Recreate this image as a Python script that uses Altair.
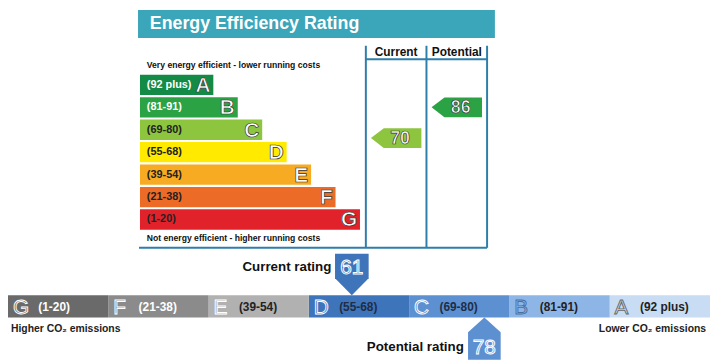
import altair as alt
import pandas as pd

# ---------------- data ----------------
bands = ["A", "B", "C", "D", "E", "F", "G"]
band_ranges = ["(92 plus)", "(81-91)", "(69-80)", "(55-68)", "(39-54)", "(21-38)", "(1-20)"]
band_low = [92, 81, 69, 55, 39, 21, 1]
band_high = [100, 91, 80, 68, 54, 38, 20]
efficiency_colors = ["#138a45", "#2ba344", "#8dc53f", "#ffea00", "#f7ab22", "#ec6b27", "#e2222b"]
efficiency_label_colors = ["#ffffff", "#ffffff", "#222222", "#222222", "#222222", "#222222", "#222222"]
co2_colors = ["#c8ddf3", "#8db6e7", "#5c90d1", "#3e74ba", "#b1b1b1", "#8b8b8b", "#6a6a6a"]
co2_label_colors = ["#222222", "#222222", "#1f2d45", "#1f2d45", "#222222", "#ffffff", "#ffffff"]
co2_letter_strokes = ["#666666", "#4a6f9e", "#ffffff", "#ffffff", "#ffffff", "#ffffff", "#ffffff"]
rating_columns = ["Current", "Potential"]
efficiency_ratings = [70, 86]
co2_ratings = [61, 78]
co2_rating_labels = ["Current rating", "Potential rating"]
chart_title = "Energy Efficiency Rating"
top_note = "Very energy efficient - lower running costs"
bottom_note = "Not energy efficient - higher running costs"
co2_left_note = "Higher CO\u2082 emissions"
co2_right_note = "Lower CO\u2082 emissions"

# ---------------- layout (reference pixel space) ----------------
FONT = "Liberation Sans"
REF_W, REF_H = 718, 360
PLOT_W, PLOT_H = 710, 352
PANEL_L, PANEL_R, TITLE_B = 133, 498, 29
BAND_X0, BAND_W0, BAND_DW = 135, 75, 25
BAND_Y0, BAND_PITCH, BAND_H = 67, 23.2, 21
COL_EDGES = [366, 428, 490]
COL_TOP, HEADER_LINE, FRAME_B = 37, 51, 246
LINE_COLOR = "#2e7eaa"
BAR_Y0, BAR_Y1 = 295, 318
SEG_W = REF_W / 7

xs = alt.Scale(domain=[0, REF_W], range=[0, PLOT_W], nice=False, zero=False)
ys = alt.Scale(domain=[0, REF_H], range=[0, PLOT_H], nice=False, zero=False)


def X(f):
    return alt.X(f, type="quantitative", scale=xs, axis=None)


def Y(f):
    return alt.Y(f, type="quantitative", scale=ys, axis=None)


def band_of(v):
    for i, (lo, hi) in enumerate(zip(band_low, band_high)):
        if lo <= v <= hi:
            return i
    return 0


# top panel frames
title_df = pd.DataFrame({"x": [PANEL_L], "x2": [PANEL_R], "y": [0], "y2": [TITLE_B],
                         "tx": [PANEL_L + 12], "ty": [15], "text": [chart_title]})

bands_df = pd.DataFrame({
    "band": bands, "range": band_ranges,
    "color": efficiency_colors, "tcolor": efficiency_label_colors,
})
idx = pd.Series(range(len(bands)))
bands_df["x"] = BAND_X0
bands_df["x2"] = BAND_X0 + BAND_W0 + BAND_DW * idx
bands_df["y"] = BAND_Y0 + BAND_PITCH * idx
bands_df["y2"] = bands_df["y"] + BAND_H
bands_df["yc"] = bands_df["y"] + BAND_H / 2
bands_df["lx"] = BAND_X0 + 7
bands_df["bx"] = bands_df["x2"] - 3

rules_df = pd.DataFrame({
    "x": [COL_EDGES[0], COL_EDGES[1], COL_EDGES[2], COL_EDGES[0], PANEL_L + 1],
    "x2": [COL_EDGES[0], COL_EDGES[1], COL_EDGES[2], COL_EDGES[2], COL_EDGES[2]],
    "y": [COL_TOP, COL_TOP, COL_TOP, HEADER_LINE, FRAME_B],
    "y2": [FRAME_B, FRAME_B, FRAME_B, HEADER_LINE, FRAME_B],
})

header_df = pd.DataFrame({
    "text": rating_columns,
    "x": [(COL_EDGES[k] + COL_EDGES[k + 1]) / 2 for k in range(2)],
    "y": [43.5, 43.5],
})

notes_df = pd.DataFrame({"text": [top_note, bottom_note], "x": [BAND_X0 + 7] * 2, "y": [56.5, 236]})

# efficiency arrows
eff_rows = []
for k, v in enumerate(efficiency_ratings):
    i = band_of(v)
    frac = (band_high[i] - v) / (band_high[i] - band_low[i])
    xc = (COL_EDGES[k] + COL_EDGES[k + 1]) / 2
    yc = BAND_Y0 + BAND_PITCH * i + frac * BAND_H
    eff_rows.append({"x": xc, "y": yc, "tx": xc + 4, "text": str(v), "color": efficiency_colors[i]})
eff_df = pd.DataFrame(eff_rows)

LEFT_ARROW = "M -2.55 0 L -1.25 -1 L 2.55 -1 L 2.55 1 L -1.25 1 Z"
DOWN_ARROW = "M 0 0 L -1 -1 L -1 -2.47 L 1 -2.47 L 1 -1 Z"
UP_ARROW = "M 0 0 L 1 0.91 L 1 2.6 L -1 2.6 L -1 0.91 Z"

# CO2 bar (G on the left, A on the right)
co2_df = pd.DataFrame({
    "band": bands, "range": band_ranges, "color": co2_colors,
    "tcolor": co2_label_colors, "lstroke": co2_letter_strokes,
})
pos = len(bands) - 1 - idx
co2_df["x"] = pos * SEG_W
co2_df["x2"] = (pos + 1) * SEG_W
co2_df["y"] = BAR_Y0
co2_df["y2"] = BAR_Y1
co2_df["yc"] = (BAR_Y0 + BAR_Y1) / 2 + 0.5
co2_df["bx"] = co2_df["x"] + 5
co2_df["lx"] = co2_df["x"] + 31

co2_rows = []
for k, v in enumerate(co2_ratings):
    i = band_of(v)
    j = len(bands) - 1 - i
    frac = (v - band_low[i]) / (band_high[i] - band_low[i] + 1)
    tip = j * SEG_W + frac * SEG_W
    co2_rows.append({"x": tip, "y": BAR_Y0 if k == 0 else BAR_Y1,
                     "ty": 266 if k == 0 else 349, "lx": tip - 21,
                     "text": str(v), "label": co2_rating_labels[k], "color": co2_colors[i]})
co2_arrows = pd.DataFrame(co2_rows)

co2_notes = pd.DataFrame({"text": [co2_left_note, co2_right_note], "x": [3, 714], "y": [330, 330]})

# ---------------- layers ----------------
title_bar = alt.Chart(title_df).mark_rect(color="#3ba5b9").encode(x=X("x"), x2="x2", y=Y("y"), y2="y2")
title_text = alt.Chart(title_df).mark_text(align="left", baseline="middle", font=FONT, fontWeight="bold",
                                            fontSize=18, color="white").encode(x=X("tx"), y=Y("ty"), text="text")

band_rects = alt.Chart(bands_df).mark_rect().encode(
    x=X("x"), x2="x2", y=Y("y"), y2="y2", color=alt.Color("color:N", scale=None))
band_labels = alt.Chart(bands_df).mark_text(align="left", baseline="middle", font=FONT, fontWeight="bold",
                                             fontSize=11).encode(
    x=X("lx"), y=Y("yc"), text="range", color=alt.Color("tcolor:N", scale=None))
band_letters = alt.Chart(bands_df).mark_text(align="right", baseline="middle", font=FONT, fontSize=21,
                                              fontWeight="bold", stroke="#333333", strokeWidth=0.7,
                                              dy=1).encode(
    x=X("bx"), y=Y("yc"), text="band", fill=alt.value("#ffffff"))

rules = alt.Chart(rules_df).mark_rule(color=LINE_COLOR, strokeWidth=2).encode(
    x=X("x"), x2="x2", y=Y("y"), y2="y2")
headers = alt.Chart(header_df).mark_text(align="center", baseline="middle", font=FONT, fontWeight="bold",
                                          fontSize=12, color="#111111").encode(x=X("x"), y=Y("y"), text="text")
notes = alt.Chart(notes_df).mark_text(align="left", baseline="middle", font=FONT, fontWeight="bold",
                                       fontSize=8.7, color="#111111").encode(x=X("x"), y=Y("y"), text="text")

eff_arrows = alt.Chart(eff_df).mark_point(shape=LEFT_ARROW, filled=True, size=400, opacity=1,
                                          strokeWidth=0).encode(
    x=X("x"), y=Y("y"), color=alt.Color("color:N", scale=None))
eff_numbers = alt.Chart(eff_df).mark_text(align="center", baseline="middle", font=FONT, fontSize=18,
                                           fontWeight="bold", stroke="#333333", strokeWidth=0.7,
                                           dy=1).encode(
    x=X("tx"), y=Y("y"), text="text", fill=alt.value("#ffffff"))

co2_rects = alt.Chart(co2_df).mark_rect().encode(
    x=X("x"), x2="x2", y=Y("y"), y2="y2", color=alt.Color("color:N", scale=None))
co2_letters = alt.Chart(co2_df).mark_text(align="left", baseline="middle", font=FONT, fontSize=21,
                                           strokeWidth=0.9, dy=1).encode(
    x=X("bx"), y=Y("yc"), text="band",
    fill=alt.Fill("color:N", scale=None), stroke=alt.Stroke("lstroke:N", scale=None))
co2_labels = alt.Chart(co2_df).mark_text(align="left", baseline="middle", font=FONT, fontWeight="bold",
                                          fontSize=12).encode(
    x=X("lx"), y=Y("yc"), text="range", color=alt.Color("tcolor:N", scale=None))

cur = co2_arrows.iloc[[0]]
pot = co2_arrows.iloc[[1]]
cur_arrow = alt.Chart(cur).mark_point(shape=DOWN_ARROW, filled=True, size=1156, opacity=1,
                                      strokeWidth=0).encode(
    x=X("x"), y=Y("y"), color=alt.Color("color:N", scale=None))
pot_arrow = alt.Chart(pot).mark_point(shape=UP_ARROW, filled=True, size=1089, opacity=1,
                                      strokeWidth=0).encode(
    x=X("x"), y=Y("y"), color=alt.Color("color:N", scale=None))
co2_numbers = alt.Chart(co2_arrows).mark_text(align="center", baseline="middle", font=FONT, fontSize=21,
                                               stroke="#ffffff", strokeWidth=1, dy=1).encode(
    x=X("x"), y=Y("ty"), text="text", fill=alt.Fill("color:N", scale=None))
co2_rating_text = alt.Chart(co2_arrows).mark_text(align="right", baseline="middle", font=FONT,
                                                   fontWeight="bold", fontSize=13.5, color="#111111").encode(
    x=X("lx"), y=Y("ty"), text="label")
left_note = alt.Chart(co2_notes.iloc[[0]]).mark_text(align="left", baseline="middle", font=FONT,
                                                     fontWeight="bold", fontSize=10.5, color="#222222").encode(
    x=X("x"), y=Y("y"), text="text")
right_note = alt.Chart(co2_notes.iloc[[1]]).mark_text(align="right", baseline="middle", font=FONT,
                                                      fontWeight="bold", fontSize=10.5, color="#222222").encode(
    x=X("x"), y=Y("y"), text="text")

chart = alt.layer(
    title_bar, title_text, band_rects, band_labels, band_letters, rules, headers, notes,
    eff_arrows, eff_numbers, co2_rects, co2_letters, co2_labels, cur_arrow, pot_arrow,
    co2_numbers, co2_rating_text, left_note, right_note,
).properties(width=PLOT_W, height=PLOT_H, padding=0, autosize="none", background="white"
).configure_view(stroke=None)

chart.save("out.html", embed_options={"renderer": "svg", "actions": False})
